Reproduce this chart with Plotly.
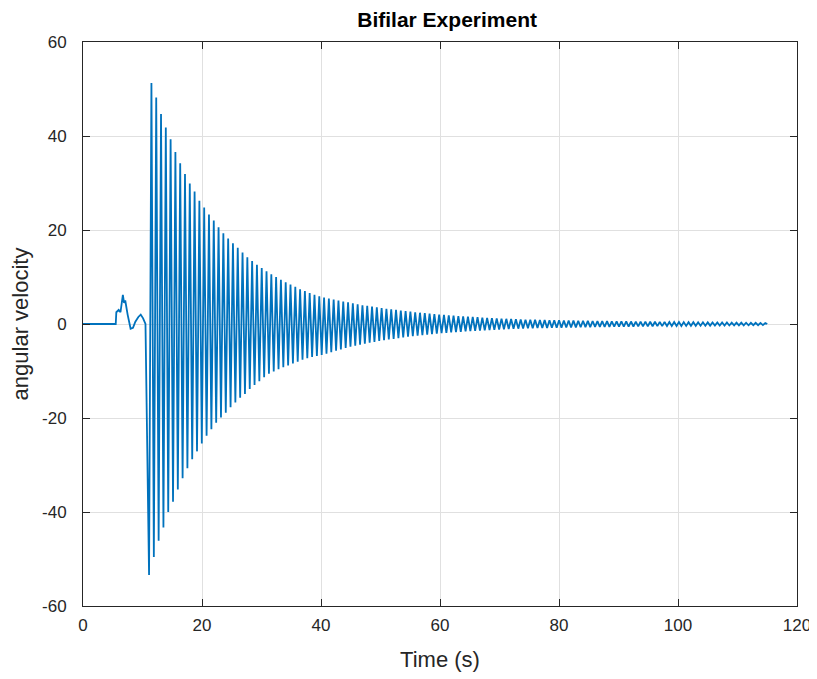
import numpy as np
import plotly.graph_objects as go

# ---- data ----
# pre-release wobble (time, angular velocity)
pre_t = [0.0, 5.5, 5.6, 6.0, 6.3, 6.5, 6.7, 6.9, 7.1, 7.5, 8.0, 8.4, 8.8, 9.3, 9.7, 10.1, 10.5]
pre_v = [0.0, 0.0, 2.5, 3.0, 2.5, 4.0, 6.2, 4.5, 5.0, 2.0, -1.0, -0.8, 0.5, 1.5, 2.0, 1.2, 0.0]

first_trough_time = 11.10
first_peak_time = 11.50
period = 0.806
end_time = 115.0

peak_values = [
    51.3, 48.2, 44.7, 41.8, 39.3, 36.6, 34.2, 31.9, 29.9, 28.2,
    26.2, 24.8, 23.3, 22.0, 20.6, 19.3, 18.2, 17.2, 16.2, 15.2,
    14.2, 13.4, 12.6, 11.9, 11.2,
    10.6, 10.0, 9.4, 8.9, 8.4, 7.9, 7.4, 7.0, 6.6, 6.2, 5.9,
    5.65, 5.4, 5.2, 5.0, 4.8, 4.6, 4.4, 4.2, 4.0, 3.85, 3.7, 3.55, 3.4, 3.25, 3.1, 3.0,
    2.87, 2.75, 2.63, 2.5, 2.4, 2.3, 2.2, 2.1, 2.0,
    1.92, 1.84, 1.76, 1.69, 1.62, 1.55, 1.49, 1.43, 1.37, 1.31,
    1.26, 1.2, 1.15, 1.1, 1.06, 1.01, 0.97, 0.93, 0.9,
    0.88, 0.86, 0.84, 0.82, 0.80, 0.78, 0.76, 0.74, 0.72, 0.70,
    0.68, 0.66, 0.64, 0.62, 0.61, 0.60, 0.58, 0.57, 0.56, 0.55,
    0.53, 0.52, 0.51, 0.50, 0.48, 0.47, 0.45,
    0.44, 0.43, 0.42, 0.41, 0.40, 0.39, 0.38, 0.37, 0.36, 0.35,
    0.34, 0.33, 0.32, 0.31, 0.30, 0.29, 0.28, 0.27, 0.26, 0.25, 0.24, 0.22,
]
trough_values = [
    -53.4, -49.6, -46.1, -43.3, -40.0, -37.8, -35.2, -32.8, -30.7, -28.8,
    -27.1, -25.4, -23.8, -22.4, -21.0, -19.9, -18.9, -17.7, -16.7, -15.7,
    -14.9, -13.8, -13.0, -12.2, -11.3, -10.6,
    -10.1, -9.6, -9.2, -8.8, -8.4, -8.0, -7.6, -7.3, -7.0, -6.8, -6.6,
    -6.3, -6.0, -5.7, -5.4, -5.1, -4.85, -4.6, -4.4, -4.2, -4.0, -3.8, -3.6, -3.45, -3.3, -3.15, -3.0,
    -2.85, -2.72, -2.6, -2.48, -2.37, -2.27, -2.17, -2.07,
    -1.96, -1.88, -1.8, -1.72, -1.65, -1.58, -1.52, -1.46, -1.4, -1.34,
    -1.28, -1.23, -1.18, -1.13, -1.08, -1.03, -0.99, -0.95, -0.92,
    -0.89, -0.87, -0.85, -0.83, -0.81, -0.79, -0.77, -0.75, -0.73, -0.71,
    -0.69, -0.67, -0.65, -0.63, -0.62, -0.6, -0.59, -0.58, -0.56, -0.55,
    -0.54, -0.53, -0.51, -0.5, -0.49, -0.47, -0.46,
    -0.45, -0.44, -0.43, -0.42, -0.41, -0.4, -0.39, -0.38, -0.37, -0.36,
    -0.35, -0.34, -0.33, -0.32, -0.31, -0.3, -0.29, -0.28, -0.27, -0.26, -0.25, -0.23,
]

x_ticks = [0, 20, 40, 60, 80, 100, 120]
y_ticks = [-60, -40, -20, 0, 20, 40, 60]
y_tick_labels = ["-60", "-40", "-20", "0", "20", "40", "60"]

# ---- assemble the trace ----
t = list(pre_t)
v = list(pre_v)
n = min(len(peak_values), len(trough_values))
for k in range(n):
    t.append(first_trough_time + k * period)
    v.append(trough_values[k])
    t.append(first_peak_time + k * period)
    v.append(peak_values[k])
t.append(end_time)
v.append(0.0)

fig = go.Figure()
fig.add_trace(go.Scatter(x=t, y=v, mode="lines",
                         line=dict(color="#0072BD", width=1.8),
                         showlegend=False, hoverinfo="skip"))

font_family = "Liberation Sans, Arial, sans-serif"
axis_common = dict(
    showline=True, linecolor="#262626", linewidth=1, mirror="ticks",
    ticks="inside", ticklen=7, tickcolor="#262626", tickwidth=1,
    showgrid=True, gridcolor="#e0e0e0", gridwidth=1,
    zeroline=False, automargin=False,
    tickfont=dict(family=font_family, size=17, color="#262626"),
)

# page has an 8px body margin, so the figure is sized to fit the window
W, H = 809, 671
L, R, T, B = 75, 20, 34, 73
fig.update_layout(
    width=W, height=H,
    margin=dict(l=L, r=R, t=T, b=B, autoexpand=False),
    paper_bgcolor="white", plot_bgcolor="white",
    title=dict(text="<b>Bifilar Experiment</b>", x=0.51, xanchor="center",
               xref="paper", y=1 - 12 / H, yanchor="middle",
               font=dict(family=font_family, size=21, color="#000000")),
    xaxis=dict(range=[0, 120], tickvals=x_ticks, ticklabelstandoff=4,
               title=dict(text="Time (s)", standoff=17,
                          font=dict(family=font_family, size=22, color="#262626")),
               **axis_common),
    yaxis=dict(range=[-60, 60], tickvals=y_ticks, ticktext=y_tick_labels,
               ticklabelstandoff=12,
               title=dict(text="angular velocity", standoff=10,
                          font=dict(family=font_family, size=22, color="#262626")),
               **axis_common),
)

fig.write_html("out.html")
